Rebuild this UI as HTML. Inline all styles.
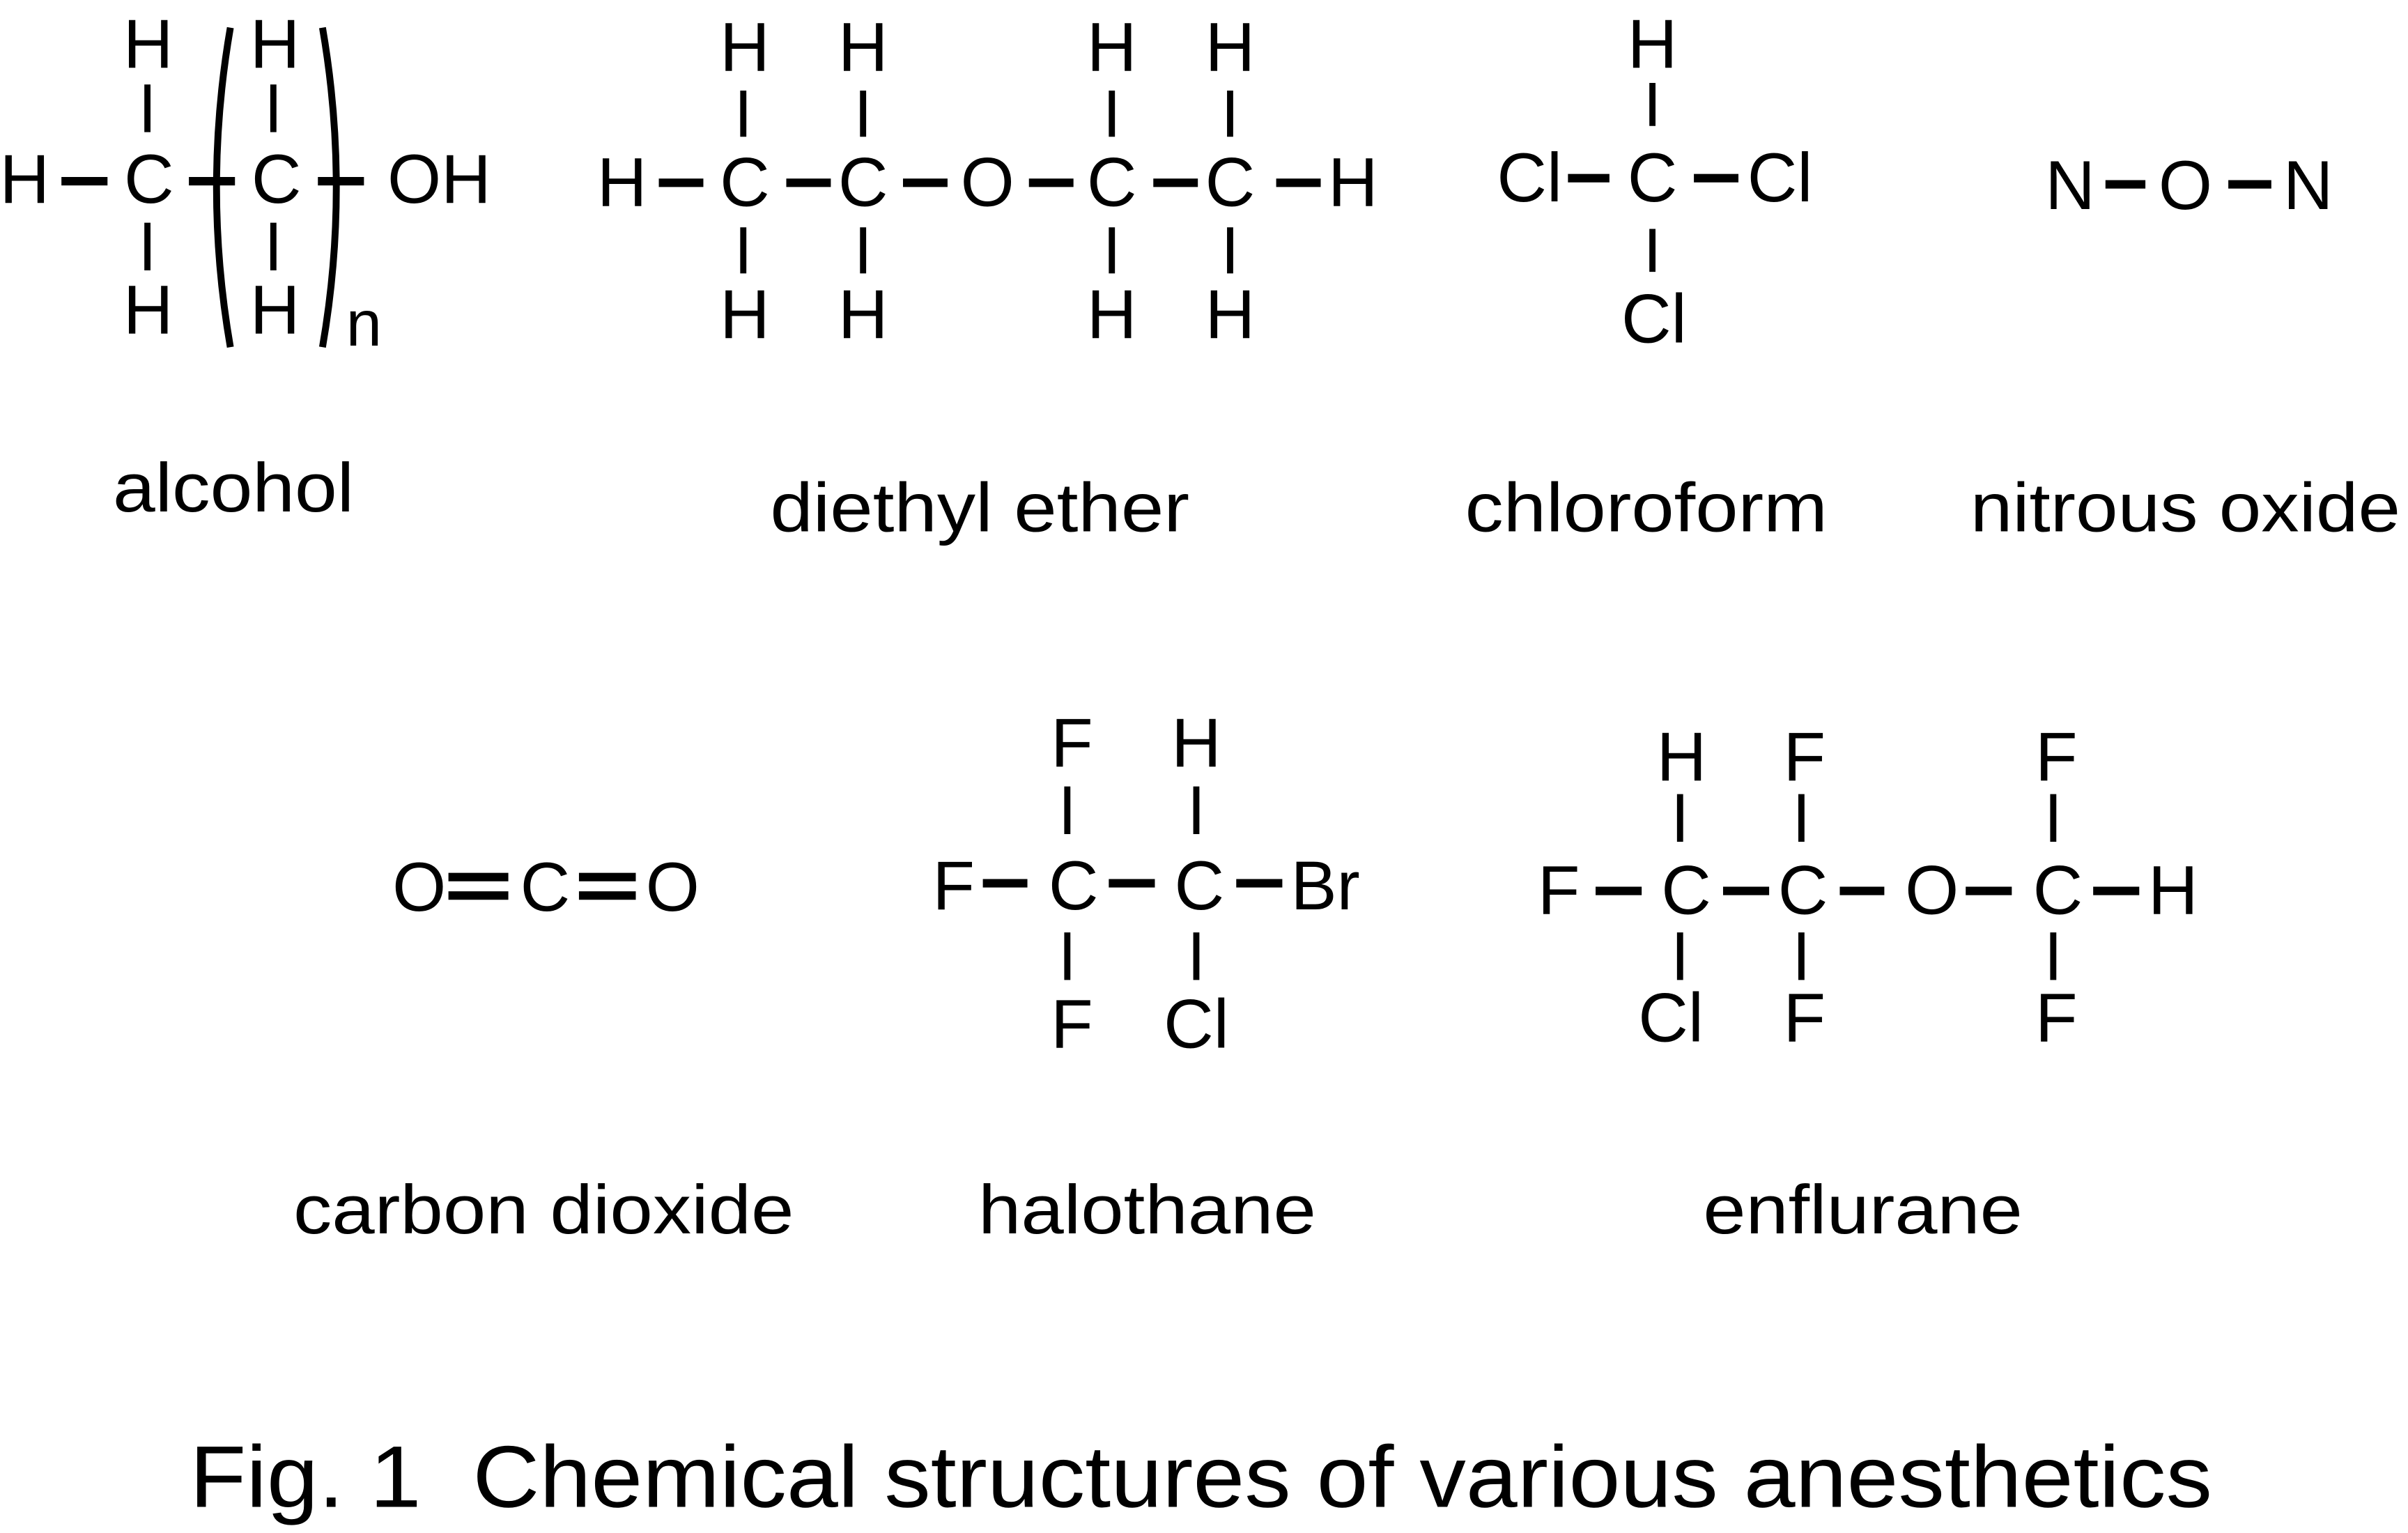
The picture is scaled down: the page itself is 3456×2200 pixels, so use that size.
<!DOCTYPE html>
<html><head><meta charset="utf-8"><style>html,body{margin:0;padding:0;background:#fff}svg{display:block}</style></head>
<body>
<svg width="3456" height="2200" viewBox="0 0 1568 998" preserveAspectRatio="none" xmlns="http://www.w3.org/2000/svg">
<g font-family="Liberation Sans, Arial, sans-serif" font-size="45" text-anchor="middle" fill="#000">
<!-- alcohol -->
<text x="96.5" y="44">H</text><text x="179" y="44">H</text>
<text x="16" y="132">H</text><text x="97" y="132">C</text><text x="180" y="132">C</text><text x="286" y="132">OH</text>
<text x="96.5" y="217">H</text><text x="179" y="217">H</text>
<text x="237" y="225" font-size="42">n</text>
<!-- diethyl ether -->
<text x="485" y="46">H</text><text x="562" y="46">H</text><text x="724" y="46">H</text><text x="801" y="46">H</text>
<text x="405" y="134">H</text><text x="485" y="134">C</text><text x="562" y="134">C</text><text x="643" y="134">O</text><text x="724" y="134">C</text><text x="801" y="134">C</text><text x="881" y="134">H</text>
<text x="485" y="220">H</text><text x="562" y="220">H</text><text x="724" y="220">H</text><text x="801" y="220">H</text>
<!-- chloroform -->
<text x="1076" y="44">H</text>
<text x="996" y="131">Cl</text><text x="1076" y="131">C</text><text x="1159" y="131">Cl</text>
<text x="1077" y="223">Cl</text>
<!-- nitrous oxide -->
<text x="1348" y="136">N</text><text x="1423" y="136">O</text><text x="1503" y="136">N</text>
<!-- CO2 -->
<text x="273" y="593">O</text><text x="355" y="593">C</text><text x="438" y="593">O</text>
<!-- halothane -->
<text x="698" y="499">F</text><text x="779" y="499">H</text>
<text x="621" y="592">F</text><text x="699" y="592">C</text><text x="781" y="592">C</text><text x="863" y="592">Br</text>
<text x="698" y="682">F</text><text x="779" y="682">Cl</text>
<!-- enflurane -->
<text x="1095" y="508">H</text><text x="1175" y="508">F</text><text x="1339" y="508">F</text>
<text x="1015" y="595">F</text><text x="1098" y="595">C</text><text x="1174" y="595">C</text><text x="1258" y="595">O</text><text x="1340" y="595">C</text><text x="1415" y="595">H</text>
<text x="1088" y="678">Cl</text><text x="1175" y="678">F</text><text x="1339" y="678">F</text>
</g>
<g font-family="Liberation Sans, Arial, sans-serif" font-size="45" text-anchor="middle" fill="#000">
<text x="152" y="333" textLength="157" lengthAdjust="spacingAndGlyphs">alcohol</text>
<text x="638" y="346" textLength="273" lengthAdjust="spacingAndGlyphs">diethyl ether</text>
<text x="1072" y="346" textLength="236" lengthAdjust="spacingAndGlyphs">chloroform</text>
<text x="1423" y="346" textLength="280" lengthAdjust="spacingAndGlyphs">nitrous oxide</text>
<text x="354" y="803" textLength="326" lengthAdjust="spacingAndGlyphs">carbon dioxide</text>
<text x="747" y="803" textLength="220" lengthAdjust="spacingAndGlyphs">halothane</text>
<text x="1213" y="803" textLength="208" lengthAdjust="spacingAndGlyphs">enflurane</text>
<text x="782" y="981" font-size="57" textLength="1317" lengthAdjust="spacingAndGlyphs">Fig. 1&#160; Chemical structures of various anesthetics</text>
</g>
<g stroke="#000" fill="none">
<g stroke-width="5.5">
<line x1="40" y1="118" x2="70" y2="118"/><line x1="123" y1="118" x2="153" y2="118"/><line x1="207" y1="118" x2="237" y2="118"/>
<line x1="429" y1="119" x2="458" y2="119"/><line x1="512" y1="119" x2="541" y2="119"/><line x1="588" y1="119" x2="617" y2="119"/><line x1="670" y1="119" x2="699" y2="119"/><line x1="751" y1="119" x2="780" y2="119"/><line x1="831" y1="119" x2="860" y2="119"/>
<line x1="1021" y1="116" x2="1048" y2="116"/><line x1="1103" y1="116" x2="1132" y2="116"/>
<line x1="1371" y1="120" x2="1397" y2="120"/><line x1="1451" y1="120" x2="1479" y2="120"/>
<line x1="292" y1="571" x2="331" y2="571"/><line x1="292" y1="583" x2="331" y2="583"/>
<line x1="377" y1="571" x2="414" y2="571"/><line x1="377" y1="583" x2="414" y2="583"/>
<line x1="640" y1="575" x2="669" y2="575"/><line x1="722" y1="575" x2="752" y2="575"/><line x1="805" y1="575" x2="835" y2="575"/>
<line x1="1039" y1="580" x2="1069" y2="580"/><line x1="1122" y1="580" x2="1152" y2="580"/><line x1="1198" y1="580" x2="1227" y2="580"/><line x1="1280" y1="580" x2="1310" y2="580"/><line x1="1363" y1="580" x2="1393" y2="580"/>
</g>
<g stroke-width="4">
<line x1="96" y1="55" x2="96" y2="86"/><line x1="96" y1="145" x2="96" y2="176"/>
<line x1="178" y1="55" x2="178" y2="86"/><line x1="178" y1="145" x2="178" y2="176"/>
<line x1="484" y1="59" x2="484" y2="89"/><line x1="484" y1="148" x2="484" y2="178"/>
<line x1="562" y1="59" x2="562" y2="89"/><line x1="562" y1="148" x2="562" y2="178"/>
<line x1="724" y1="59" x2="724" y2="89"/><line x1="724" y1="148" x2="724" y2="178"/>
<line x1="801" y1="59" x2="801" y2="89"/><line x1="801" y1="148" x2="801" y2="178"/>
<line x1="1076" y1="54" x2="1076" y2="82"/><line x1="1076" y1="149" x2="1076" y2="177"/>
<line x1="695" y1="512" x2="695" y2="543"/><line x1="695" y1="607" x2="695" y2="638"/>
<line x1="779" y1="512" x2="779" y2="543"/><line x1="779" y1="607" x2="779" y2="638"/>
<line x1="1094" y1="517" x2="1094" y2="548"/><line x1="1094" y1="607" x2="1094" y2="638"/>
<line x1="1173" y1="517" x2="1173" y2="548"/><line x1="1173" y1="607" x2="1173" y2="638"/>
<line x1="1337" y1="517" x2="1337" y2="548"/><line x1="1337" y1="607" x2="1337" y2="638"/>
</g>
<g stroke-width="4.5">
<path d="M150 18 Q132 122 150 226"/>
<path d="M210 18 Q228 122 210 226"/>
</g>
</g>
</svg>
</body></html>
